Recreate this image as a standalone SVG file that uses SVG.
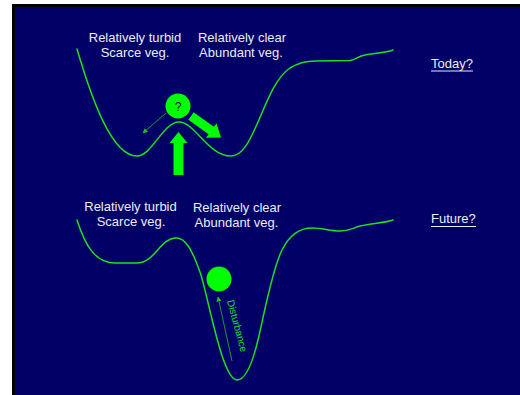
<svg xmlns="http://www.w3.org/2000/svg" width="520" height="395" viewBox="0 0 520 395">
<style>
.lbl{font-family:"Liberation Sans",Arial,sans-serif;font-size:13px;fill:#ececf4;text-anchor:middle}
.hdr{font-family:"Liberation Sans",Arial,sans-serif;font-size:13px;fill:#ececf4}
.curve{fill:none;stroke:#1ee01e;stroke-width:1.5;stroke-linecap:round}
.ball{fill:#00ff00}
.big{fill:#00ff00}
.thin{stroke:#1f9a2f;stroke-width:1;fill:none}
</style>
<defs>
<marker id="ah" viewBox="0 0 10 10" refX="9" refY="5" markerWidth="5" markerHeight="5" orient="auto" markerUnits="userSpaceOnUse">
<path d="M0,0 L10,5 L0,10 z" fill="#22c02a"/>
</marker>
</defs>
<rect x="0" y="0" width="520" height="395" fill="#ffffff"/>
<rect x="12" y="4" width="508" height="391" fill="#000000"/>
<rect x="15" y="7" width="505" height="388" fill="#000066"/>

<g id="today-landscape">
<path class="curve" d="M77,49 C92,100 112,156 137,156 C152,156 163,122 179,122 C195,122 208,156 231,156 C243,156 250,140 258,122 C266,104 275,78 290,68 C298,63 305,61 315,61 L350,60.5 C356,60 358,56 365,55 C375,53 385,53 393,50"/>
</g>
<g id="future-landscape">
<path class="curve" d="M77,220 C85,245 95,263 115,263 L137,263 C155,263 160,238 176,238 C186,238 192,250 200,272 C208,295 222,380 237,380 C245,380 252,365 258,340 C264,315 272,270 282,250 C290,234 300,228 312,228 C322,228 330,231 340,231 C350,231 352,228 360,226 C372,223 385,223 393,220"/>
</g>

<g id="labels-today">
<text class="lbl" x="135" y="42">Relatively turbid</text>
<text class="lbl" x="135" y="57">Scarce veg.</text>
<text class="lbl" x="242" y="42">Relatively clear</text>
<text class="lbl" x="241" y="57">Abundant veg.</text>
<text class="hdr" x="431" y="68">Today?</text>
<line x1="431" y1="71" x2="473" y2="71" stroke="#ececf4" stroke-width="1"/>
</g>
<g id="labels-future">
<text class="lbl" x="130.5" y="211">Relatively turbid</text>
<text class="lbl" x="131" y="226">Scarce veg.</text>
<text class="lbl" x="237" y="212">Relatively clear</text>
<text class="lbl" x="236.5" y="227">Abundant veg.</text>
<text class="hdr" x="431" y="223">Future?</text>
<line x1="431" y1="226.5" x2="476" y2="226.5" stroke="#ececf4" stroke-width="1"/>
</g>

<g id="ball-today">
<circle class="ball" cx="178" cy="106" r="12.5"/>
<text x="178" y="110.5" font-family="'Liberation Sans',Arial,sans-serif" font-size="12" fill="#000066" text-anchor="middle">?</text>
</g>
<g id="ball-future">
<circle class="ball" cx="219" cy="279" r="12.5"/>
</g>

<g id="connectors">
<line class="thin" x1="166" y1="113" x2="143" y2="133" marker-end="url(#ah)"/>
<polygon class="big" points="193.6,112.3 213.9,126.8 216.5,123.2 221,137.5 206,137.8 208.6,134.2 188.4,119.7"/>
<polygon class="big" points="178.5,132 187.5,143 183.5,143 183.5,175 173.5,175 173.5,143 169.5,143"/>
<line class="thin" x1="232" y1="361" x2="218" y2="297" marker-end="url(#ah)"/>
<text x="227" y="301" transform="rotate(75 227 301)" font-family="'Liberation Sans',Arial,sans-serif" font-size="10" fill="#1ee01e">Disturbance</text>
</g>
</svg>
